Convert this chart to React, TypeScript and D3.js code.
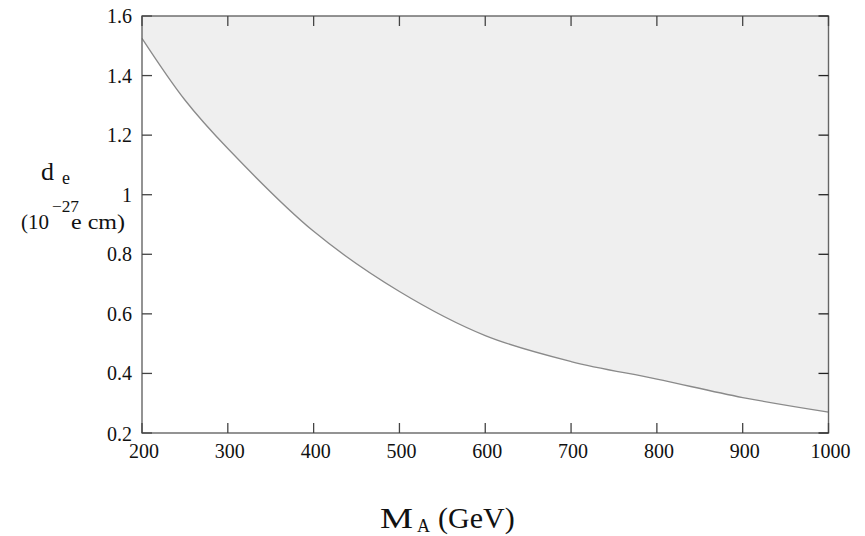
import React from "react";
import * as d3 from "d3";

const massGeV = [200, 250, 300, 400, 500, 600, 700, 800, 900, 1000];
const deLimit = [1.525, 1.318, 1.155, 0.877, 0.675, 0.527, 0.44, 0.381, 0.319, 0.27];
const xTicks = [200, 300, 400, 500, 600, 700, 800, 900, 1000];
const yTicks = [0.2, 0.4, 0.6, 0.8, 1, 1.2, 1.4, 1.6];

const W = 865, H = 536;
const L = 142, R = 828.5, T = 16, B = 433;

export default function App() {
  const x = d3.scaleLinear().domain([200, 1000]).range([L, R]);
  const y = d3.scaleLinear().domain([0.2, 1.6]).range([B, T]);
  const pts: [number, number][] = massGeV.map((m, i) => [m, deLimit[i]]);
  const line = d3.line<[number, number]>().x(d => x(d[0])).y(d => y(d[1])).curve(d3.curveCatmullRom.alpha(0.5));
  const area = d3.area<[number, number]>().x(d => x(d[0])).y0(y(1.6)).y1(d => y(d[1])).curve(d3.curveCatmullRom.alpha(0.5));
  const font = "'Liberation Serif', 'DejaVu Serif', serif";
  const tl = 10;
  return (
    <svg width={W} height={H} style={{ position: "absolute", left: 0, top: 0 }} fontFamily={font}>
      <rect x={0} y={0} width={W} height={H} fill="#fff" />
      <path d={area(pts) || ""} fill="#efefef" />
      <path d={line(pts) || ""} fill="none" stroke="#8a8a8a" strokeWidth={1.3} />
      <rect x={L} y={T} width={R - L} height={B - T} fill="none" stroke="#666" strokeWidth={1.4} />
      {xTicks.map(t => (
        <g key={"x" + t}>
          <line x1={x(t)} x2={x(t)} y1={B} y2={B - tl} stroke="#444" strokeWidth={1.3} />
          <line x1={x(t)} x2={x(t)} y1={T} y2={T + tl} stroke="#444" strokeWidth={1.3} />
          <text x={x(t) + 2} y={458} textAnchor="middle" fontSize={20} fill="#111">{t}</text>
        </g>
      ))}
      {yTicks.map(t => (
        <g key={"y" + t}>
          <line x1={L} x2={L + tl} y1={y(t)} y2={y(t)} stroke="#444" strokeWidth={1.3} />
          <line x1={R} x2={R - tl} y1={y(t)} y2={y(t)} stroke="#222" strokeWidth={1.3} />
          <text x={132} y={y(t) + 7 + (t === 0.2 ? 1 : 0)} textAnchor="end" fontSize={20} fill="#111">{d3.format("~g")(t)}</text>
        </g>
      ))}
      <text x={41} y={180} fontSize={26} fill="#111">d</text>
      <text x={62} y={184} fontSize={18} fill="#111">e</text>
      <text x={21} y={229} fontSize={21} fill="#111">(10</text>
      <text x={52} y={212} fontSize={16} fill="#111" textLength={27} lengthAdjust="spacingAndGlyphs">−27</text>
      <text x={71} y={229} fontSize={21} fill="#111" textLength={54} lengthAdjust="spacingAndGlyphs">e cm)</text>
      <text x={380} y={528} fontSize={30} fill="#111" textLength={33} lengthAdjust="spacingAndGlyphs">M</text>
      <text x={417} y={532} fontSize={18} fill="#111">A</text>
      <text x={438} y={528} fontSize={30} fill="#111">(GeV)</text>
    </svg>
  );
}
